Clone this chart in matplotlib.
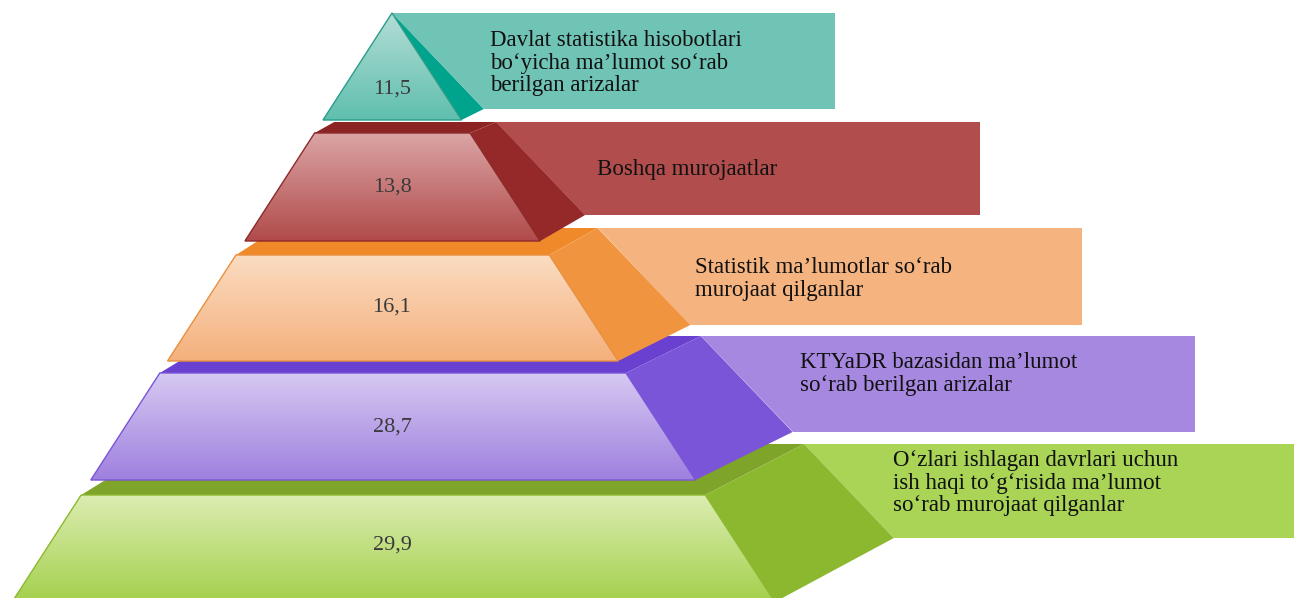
import numpy as np
import matplotlib
matplotlib.use("Agg")
import matplotlib.pyplot as plt
from matplotlib.patches import Polygon
from matplotlib.colors import LinearSegmentedColormap

# data, top level -> bottom level
values = [11.5, 13.8, 16.1, 28.7, 29.9]
labels = [
    "Davlat statistika hisobotlari\nbo\u2018yicha ma\u2019lumot so\u2018rab\nberilgan arizalar",
    "Boshqa murojaatlar",
    "Statistik ma\u2019lumotlar so\u2018rab\nmurojaat qilganlar",
    "KTYaDR bazasidan ma\u2019lumot\nso\u2018rab berilgan arizalar",
    "O\u2018zlari ishlagan davrlari uchun\nish haqi to\u2018g\u2018risida ma\u2019lumot\nso\u2018rab murojaat qilganlar",
]

# colours: front gradient top/bottom, top face, side face, label box
front_hi = ["#b3ddd5", "#dba5a5", "#fbdcc2", "#d6c9f2", "#dcedb2"]
front_lo = ["#5fbfae", "#b14a4a", "#f4b07c", "#9e80df", "#a4d04c"]
top_col = ["#00a08a", "#8c2424", "#f0892a", "#6a40d0", "#7ea52a"]
side_col = ["#00a48c", "#952828", "#f19440", "#7a55d8", "#8cb830"]
box_col = ["#70c4b5", "#b24d4d", "#f5b47f", "#a688e0", "#a9d456"]
edge_col = ["#2a9d8a", "#8c2a2a", "#e8903e", "#7a55d8", "#8cb830"]

# layout in pixels
box_top = [13, 122, 228, 336, 444]
box_bot = [109, 215, 325, 432, 538]
box_right = [835, 980, 1082, 1195, 1300]
front_top = [13, 133, 255, 373, 495]
front_bot = [120, 241, 361, 480, 602]
value_y = [89, 187, 307, 427, 545]
text_x = [490, 597, 695, 800, 893]
text_y = [63, 170, 279, 374, 483]

cx, ay = 392, 13
def left(y): return cx - 0.645 * (y - ay)
def right(y): return cx + 0.65 * (y - ay)
def back_r(y): return cx + 0.956 * (y - ay)
def back_l(y): return cx - 0.53 * (y - ay)

fig = plt.figure(figsize=(12.94, 5.98), dpi=100)
ax = fig.add_axes([0, 0, 1, 1])
ax.set_xlim(0, 1294)
ax.set_ylim(598, 0)
ax.axis("off")

grad = np.linspace(0, 1, 256).reshape(-1, 1)

for i in reversed(range(len(values))):
    ft, fb, bt, bb = front_top[i], front_bot[i], box_top[i], box_bot[i]
    # label box
    ax.add_patch(Polygon([(back_r(bt), bt), (box_right[i], bt), (box_right[i], bb), (back_r(bb), bb)],
                         closed=True, fc=box_col[i], ec="none", zorder=1))
    # top face
    if i > 0:
        ax.add_patch(Polygon([(left(ft), ft), (right(ft), ft), (back_r(bt), bt), (back_l(bt), bt)],
                             closed=True, fc=top_col[i], ec="none", zorder=2))
    # side face
    ax.add_patch(Polygon([(right(ft), ft), (right(fb), fb), (back_r(bb), bb), (back_r(bt), bt)],
                         closed=True, fc=side_col[i], ec="none", zorder=3))
    # front face with gradient
    pts = [(left(ft), ft), (right(ft), ft), (right(fb), fb), (left(fb), fb)]
    poly = Polygon(pts, closed=True, fc="none", ec=edge_col[i], lw=1.0, zorder=5)
    ax.add_patch(poly)
    cmap = LinearSegmentedColormap.from_list("g%d" % i, [front_hi[i], front_lo[i]])
    im = ax.imshow(grad, cmap=cmap, aspect="auto", origin="upper",
                   extent=(left(fb), right(fb), fb, ft), zorder=4)
    im.set_clip_path(poly)

    ax.text(cx, value_y[i], ("%.1f" % values[i]).replace(".", ","),
            ha="center", va="center", fontsize=16, color="#3a3a3a",
            family="Liberation Serif", zorder=6)
    ax.text(text_x[i], text_y[i], labels[i], ha="left", va="center",
            fontsize=16.5, color="#111111", family="Liberation Serif",
            linespacing=1.1, zorder=6)

fig.savefig("out.png", dpi=100)
